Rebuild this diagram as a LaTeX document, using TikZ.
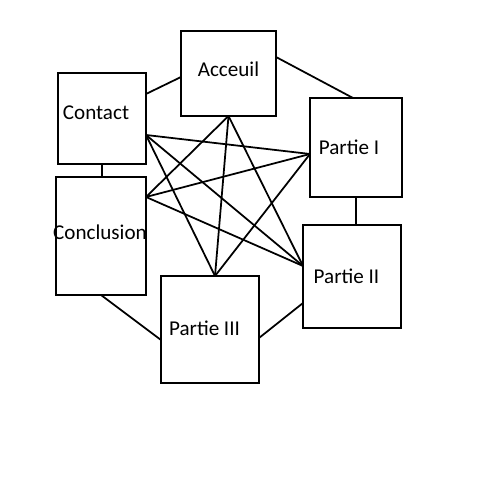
\documentclass[tikz,border=0pt]{standalone}
\usepackage{fontspec}
\setmainfont{Carlito}
\usetikzlibrary{positioning, calc}

\begin{document}
\begin{tikzpicture}[
    page/.style={rectangle, draw=black, line width=1.1pt, fill=white, inner sep=0pt, outer sep=0pt},
    link/.style={draw=black, line width=1pt},
    title/.style={font=\fontsize{12}{14}\selectfont, inner sep=0pt}
]
    % Canvas
    \fill[white] (0,0) rectangle (10,10);
    \useasboundingbox (0,0) rectangle (10,10);

    % Pages of the site
    \node[page, minimum width=1.9cm, minimum height=1.7cm,
          label={[title, name=acceuil-text, yshift=0.09cm]center:Acceuil}] (acceuil) at (4.57,8.53) {};
    \node[page, minimum width=1.76cm, minimum height=1.82cm,
          label={[title, name=contact-text, xshift=-0.12cm, yshift=0.11cm]center:Contact}] (contact) at (2.04,7.63) {};
    \node[page, minimum width=1.84cm, minimum height=1.98cm,
          label={[title, name=partieI-text, xshift=-0.14cm]center:Partie I}] (partieI) at (7.12,7.05) {};
    \node[page, minimum width=1.8cm, minimum height=2.36cm,
          label={[title, name=conclusion-text, xshift=-0.02cm, yshift=0.08cm]center:Conclusion}] (conclusion) at (2.02,5.28) {};
    \node[page, minimum width=1.96cm, minimum height=2.06cm,
          label={[title, name=partieII-text, xshift=-0.11cm]center:Partie II}] (partieII) at (7.04,4.47) {};
    \node[page, minimum width=1.96cm, minimum height=2.14cm,
          label={[title, name=partieIII-text, xshift=-0.11cm, yshift=0.03cm]center:Partie III}] (partieIII) at (4.2,3.41) {};

    % Meeting points of the crossing links
    \coordinate (contactR) at ([yshift=-0.33cm]contact.east);
    \coordinate (acceuilB) at (acceuil.south);
    \coordinate (partieIL) at ([yshift=-0.13cm]partieI.west);
    \coordinate (conclusionR) at ([yshift=0.78cm]conclusion.east);
    \coordinate (partieIIL) at ([yshift=0.21cm]partieII.west);
    \coordinate (partieIIIT) at ([xshift=0.1cm]partieIII.north);

    % Outer ring
    \draw[link] ([yshift=0.49cm]contact.east) -- ([yshift=-0.07cm]acceuil.west);
    \draw[link] ([yshift=0.33cm]acceuil.east) -- ([xshift=-0.06cm]partieI.north);
    \draw[link] (contact.south) -- (contact.south |- conclusion.north);
    \draw[link] (partieI.south) -- (partieI.south |- partieII.north);
    \draw[link] (conclusion.south) -- ([yshift=-0.21cm]partieIII.west);
    \draw[link] ([yshift=-0.17cm]partieIII.east) -- ([yshift=-0.53cm]partieII.west);

    % Crossing links
    \foreach \a/\b in {contactR/partieIL, contactR/partieIIL, contactR/partieIIIT,
                       acceuilB/conclusionR, acceuilB/partieIIIT, acceuilB/partieIIL,
                       partieIL/conclusionR, partieIL/partieIIIT, conclusionR/partieIIL} {
        \draw[link] (\a) -- (\b);
    }
\end{tikzpicture}
\end{document}
